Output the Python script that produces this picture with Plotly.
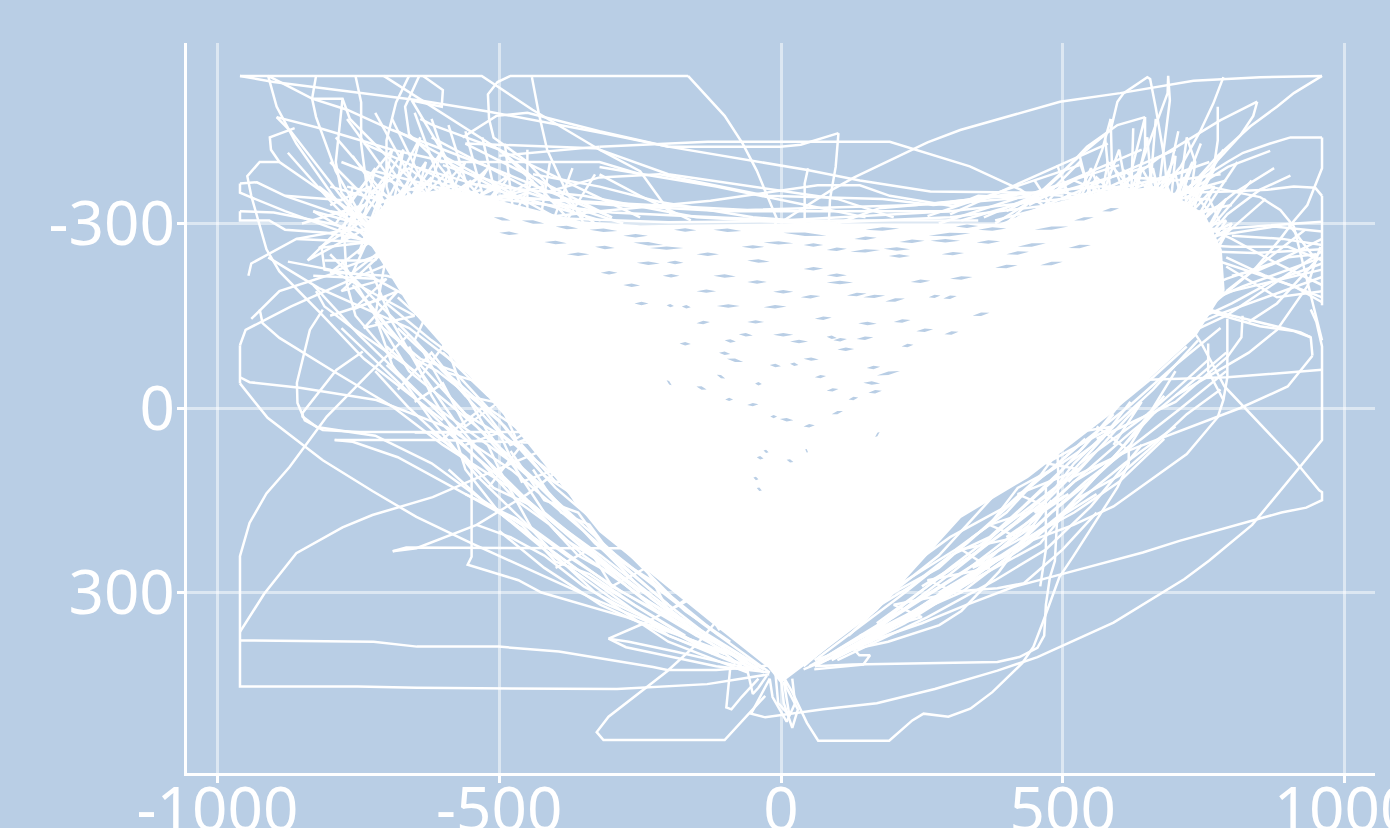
import plotly.graph_objects as go

BG = "#B9CEE5"
X_TICKS = [-1000, -500, 0, 500, 1000]
X_LABELS = ["-1000", "-500", "0", "500", "1000"]
Y_TICKS = [-300, 0, 300]
Y_LABELS = ["-300", "0", "300"]

DENSE_CORE = [(-735,-300),(-690,-340),(-593,-355),(-499,-335),(-357,-302),(-250,-295),(0,-298),(389,-298),(478,-330),(567,-350),(673,-358),(750,-314),(780,-257),(785,-192),(735,-119),(584,8),(437,112),(318,177),(169,328),(43,415),(0,445),(-21,421),(-115,353),(-321,200),(-476,25),(-570,-73),(-654,-160),(-703,-233),(-739,-284)]

OUTER = [
 [(-165,-540),(-100,-475),(-68,-430),(-43,-386),(-7,-307),(-50,-200)],
 [(-960,-40),(-911,16),(-813,85),(-725,135),(-647,177),(-547,221),(-321,315),(-100,400)],
 [(-960,-102),(-960,-40)],
 [(-960,-102),(-950,-127),(-870,-165),(-765,-208),(-680,-240)],
 [(-960,-50),(-943,-42),(-854,-33),(-718,-13),(-593,31),(-476,102),(-350,200),(-200,320)],
 [(-925,-160),(-920,-138),(-890,-114),(-789,-57),(-689,-2),(-600,60),(-480,130),(-350,240),(-150,370)],
 [(-813,-160),(-836,-127),(-859,-41),(-858,-8),(-845,20),(-813,36),(-748,39),(-511,39),(-440,39)],
 [(-792,52),(-607,52),(-500,55),(-420,57)],
 [(-792,52),(-760,55),(-680,80),(-600,120),(-500,170),(-380,250),(-200,370),(-30,430)],
 [(-742,-92),(-789,-62),(-849,8),(-849,14),(-824,31),(-720,45),(-620,90),(-500,170),(-350,270),(-120,400)],
 [(-660,-120),(-730,-57),(-806,14),(-872,96),(-913,139),(-943,187),(-960,241),(-960,300),(-960,375),(-960,453),(-751,453),(-646,455),(-291,457),(-131,449),(-21,433)],
 [(-960,378),(-723,380),(-646,388),(-501,388),(-394,396),(-227,421),(-202,426),(-115,426),(-12,418)],
 [(-960,364),(-917,302),(-860,236),(-778,194),(-725,174),(-618,145),(-535,112),(-400,60)],
 [(-689,233),(-647,228),(-540,190),(-450,140),(-350,70)],
 [(-689,233),(-665,227),(-357,228),(-250,228)],
 [(-549,60),(-549,122),(-549,242),(-556,255),(-466,280),(-425,300),(-275,340),(-195,365),(-60,410)],
 [(-306,375),(-275,389),(-115,420),(-20,430)],
 [(-306,375),(-270,380),(-188,396),(-50,425)],
 [(-306,375),(-243,350),(-180,320),(-100,280)],
 [(-28,468),(-100,540),(-315,540),(-327,527),(-306,502),(-202,428),(-147,382),(-90,320)],
 [(0,430),(20,462),(46,512),(66,541),(192,541),(233,508),(253,497),(297,502),(336,489),(375,462),(428,415),(448,388),(464,350),(494,275),(518,242),(597,129),(617,90),(617,69),(560,30)],
 [(60,420),(127,417),(384,413),(423,405),(455,390),(467,370),(470,320),(477,276),(486,249),(490,180),(492,110),(490,60)],
 [(127,390),(139,402),(158,402),(146,417),(59,425)],
 [(-20,440),(-53,497),(-28,503),(75,490),(170,480),(273,457),(384,427),(455,405),(590,349),(716,278),(760,248),(836,190),(960,52),(960,-60),(960,-100),(950,-140),(940,-160)],
 [(60,410),(250,350),(329,320),(412,291),(495,271),(642,235),(707,216),(836,184),(888,170),(932,162),(960,150),(960,137),(955,134),(911,85),(787,-35),(746,-105),(700,-170)],
 [(130,392),(190,380),(281,353),(320,330),(387,266),(440,200),(480,150)],
 [(100,400),(297,299),(384,293),(431,285),(500,230),(560,170)],
 [(960,-62),(792,-50),(650,-46)],
 [(943,-85),(940,-115),(922,-123),(820,-145),(792,-152),(720,-170)],
 [(943,-85),(899,-35),(815,0),(678,48),(620,68),(500,120),(400,190),(300,260),(150,370)],
 [(819,-150),(817,-115),(792,-83),(700,-10),(560,50)],
 [(792,-145),(792,-50),(785,-13),(775,15),(720,75),(590,160),(519,190),(425,222),(300,300),(150,370)],
 [(758,-105),(758,-60),(785,-13)],
 [(-20,440),(-15,470),(10,510),(25,480),(20,440)],
 [(-90,422),(-97,487),(-88,490),(-70,470),(-40,440)],
 [(-60,425),(-50,465),(-40,455),(-25,435)],
 [(0,420),(10,455),(30,490),(20,520),(5,480),(0,440)],
 [(-10,430),(-5,480),(15,500),(5,445)],
]

TOP_RIGHT = [
 [(960,-440),(904,-440),(868,-430),(820,-415),(792,-400),(740,-370),(650,-300)],
 [(960,-440),(960,-390),(934,-330),(910,-304),(886,-275),(840,-225),(740,-150)],
 [(960,-540),(850,-538),(732,-532),(602,-512),(495,-498),(318,-452),(260,-432),(130,-375),(87,-353),(0,-302)],
 [(960,-540),(910,-512),(880,-490),(833,-458),(775,-410),(733,-367),(680,-320),(620,-280)],
 [(400,-300),(465,-355),(536,-415),(585,-452),(597,-498),(608,-512),(650,-538),(655,-535),(665,-488),(680,-407),(685,-360),(680,-300)],
 [(600,-300),(640,-400),(686,-512),(687,-540),(690,-500),(673,-376),(650,-300)],
 [(600,-330),(620,-380),(646,-473),(646,-425)],
 [(646,-473),(597,-460),(543,-425),(495,-378),(450,-340),(380,-300)],
 [(785,-538),(767,-495),(745,-452),(709,-392),(660,-340),(600,-290)],
 [(775,-490),(775,-435),(767,-385),(740,-340),(700,-300)],
 [(845,-498),(838,-475),(815,-443),(762,-390),(700,-340),(650,-300)],
 [(845,-498),(780,-468),(672,-408),(603,-360),(540,-320)],
 [(585,-470),(570,-420),(555,-385),(530,-340),(500,-300)],
 [(585,-470),(587,-400),(605,-360),(620,-300)],
 [(868,-418),(793,-392),(720,-350),(650,-310)],
 [(875,-390),(805,-350),(775,-328),(740,-300),(680,-260)],
 [(904,-378),(850,-355),(792,-315),(760,-280),(700,-240)],
 [(960,-345),(948,-358),(910,-360),(863,-355),(792,-352),(720,-350),(600,-340)],
 [(960,-345),(960,-167)],
 [(760,-360),(850,-343),(886,-322),(910,-295),(945,-165),(960,-110)],
 [(700,-300),(720,-440),(735,-400),(720,-300)],
 [(620,-300),(640,-340),(660,-390),(675,-330),(660,-290)],
 [(560,-350),(620,-375),(700,-370),(780,-380)],
 [(500,-340),(600,-360),(680,-340),(760,-360)],
 [(470,-345),(530,-400),(560,-320),(600,-420),(620,-320),(650,-440),(660,-330),(700,-410),(690,-320),(730,-400),(700,-310),(750,-380),(710,-300),(770,-360),(720,-280),(790,-340),(740,-260),(790,-290),(760,-230)],
 [(440,-330),(520,-370),(570,-350),(580,-400),(630,-350),(640,-390),(670,-340),(700,-380),(710,-340),(740,-350),(730,-310),(780,-330),(750,-280),(800,-300),(770,-250)],
 [(400,-320),(470,-355),(540,-345),(560,-375),(600,-340),(610,-385),(655,-355),(680,-370),(700,-330),(720,-360),(760,-320),(740,-290),(790,-305),(760,-265)],
 [(450,-310),(500,-365),(520,-330),(550,-390),(575,-330),(610,-365),(630,-320),(660,-375),(680,-310),(715,-375),(720,-320)],
 [(520,-310),(560,-360),(590,-360),(620,-340),(650,-360),(640,-320),(690,-350),(680,-300),(730,-340),(760,-340),(780,-300)],
 [(560,-300),(530,-410)],[(590,-300),(575,-440)],[(620,-300),(625,-455)],[(650,-300),(665,-470)],
 [(670,-300),(705,-450)],[(690,-300),(745,-430)],[(710,-300),(785,-420)],[(730,-290),(810,-400)],
 [(750,-280),(835,-370)],[(760,-260),(860,-340)],[(530,-300),(490,-395)],[(500,-300),(450,-370)],
 [(790,-370),(520,-300)],[(760,-400),(480,-310)],[(700,-420),(420,-310)],[(640,-420),(360,-310)],
 [(800,-330),(580,-290)],[(580,-430),(300,-315)],[(530,-395),(260,-312)],
 [(720,-385),(380,-305)],[(660,-395),(320,-305)],[(600,-395),(280,-300)],[(770,-360),(480,-300)],
]

RIGHT_FAN = [
 [(960,-303),(792,-292),(720,-290)],
 [(960,-287),(875,-295),(700,-270)],
 [(960,-255),(790,-150),(720,-120)],
 [(960,-258),(840,-252),(750,-255)],
 [(960,-245),(820,-198),(750,-170)],
 [(960,-225),(800,-190),(740,-180)],
 [(960,-213),(785,-155),(720,-130)],
 [(740,-250),(805,-230),(910,-198),(960,-172)],
 [(720,-170),(792,-148),(850,-133),(910,-125),(940,-115)],
 [(957,-262),(934,-198),(880,-127),(830,-90),(700,-20)],
 [(960,-240),(900,-262),(800,-262),(740,-265)],
 [(960,-275),(880,-238),(790,-210),(740,-190)],
 [(960,-200),(880,-235),(800,-275),(740,-300)],
 [(960,-265),(890,-275),(800,-280)],
 [(960,-190),(880,-180),(790,-230)],
 [(960,-180),(860,-215),(790,-245)],
 [(960,-235),(870,-205),(800,-170),(730,-140)],
 [(930,-290),(860,-240),(790,-190)],
 [(900,-300),(950,-240),(880,-170),(830,-140)],
 [(800,-215),(850,-225),(900,-245),(950,-250)],
]

TOP_LEFT = [
 [(-960,-540),(-531,-540),(-441,-485),(-322,-420),(-200,-380),(100,-340),(200,-310)],
 [(-165,-540),(-480,-540),(-503,-530),(-520,-510),(-518,-470),(-510,-440),(-450,-400),(-400,-350),(-330,-300)],
 [(-442,-538),(-430,-480),(-415,-420),(-385,-360),(-350,-300)],
 [(-910,-540),(-895,-490),(-860,-430),(-795,-345),(-700,-250)],
 [(-895,-473),(-870,-450),(-815,-385),(-760,-320),(-680,-230)],
 [(-895,-473),(-818,-455),(-690,-420),(-593,-400),(-450,-330)],
 [(-863,-455),(-907,-440),(-905,-420),(-890,-400),(-795,-340),(-680,-260)],
 [(-890,-400),(-925,-400),(-947,-377),(-940,-345),(-913,-258),(-890,-222),(-818,-155),(-740,-80),(-600,20)],
 [(-960,-365),(-930,-367),(-880,-345),(-795,-318),(-720,-290),(-650,-270)],
 [(-960,-365),(-960,-350),(-880,-320),(-790,-290),(-720,-265),(-650,-240)],
 [(-960,-320),(-960,-305),(-908,-305),(-880,-290),(-806,-285),(-720,-270)],
 [(-960,-320),(-900,-318),(-800,-300),(-720,-280)],
 [(-875,-415),(-795,-332),(-740,-280),(-680,-220)],
 [(-880,-345),(-778,-338)],
 [(-825,-540),(-832,-503),(-825,-473),(-790,-385),(-750,-320),(-690,-260)],
 [(-778,-503),(-790,-400),(-780,-350),(-720,-280)],
 [(-832,-503),(-778,-503),(-765,-470),(-700,-410),(-620,-340)],
 [(-755,-540),(-745,-497),(-745,-430),(-735,-360),(-680,-290)],
 [(-660,-540),(-683,-497),(-700,-435),(-700,-360),(-680,-300)],
 [(-642,-540),(-667,-490),(-660,-445),(-625,-415),(-560,-340)],
 [(-635,-540),(-600,-517),(-602,-490),(-655,-500),(-590,-400),(-540,-350),(-500,-310)],
 [(-705,-540),(-500,-420),(-420,-350),(-380,-310)],
 [(-960,-540),(-900,-530),(-640,-500),(-520,-482),(-322,-448),(-200,-425),(47,-387),(140,-370),(265,-352),(425,-350),(480,-350)],
 [(-910,-540),(-832,-503),(-770,-485),(-690,-452),(-499,-385),(-380,-340),(-300,-310)],
 [(-640,-470),(-618,-460),(-500,-420),(-420,-360)],
 [(-565,-440),(-505,-475),(-450,-480),(-322,-450),(-200,-425),(-1,-425),(35,-428),(102,-447)],
 [(102,-447),(97,-392),(87,-340),(84,-285)],
 [(-322,-425),(-130,-433),(193,-433),(335,-393),(425,-355),(480,-320)],
 [(48,-390),(42,-365),(42,-295),(42,-270)],
 [(-322,-392),(-115,-360),(55,-328),(150,-310)],
 [(-420,-350),(-322,-375),(-215,-380),(-25,-345),(180,-340),(270,-330),(425,-342),(500,-350)],
 [(-420,-310),(-322,-320),(-125,-337),(65,-362),(140,-362),(193,-345),(305,-328),(350,-345),(425,-342)],
 [(-440,-380),(-322,-360),(-215,-335),(-50,-310),(100,-300)],
 [(100,-300),(175,-325),(300,-335),(425,-350),(500,-345)],
 [(-322,-420),(-250,-385),(-195,-315)],
 [(-322,-380),(-250,-345),(-160,-305)],
 [(-605,-400),(-322,-400),(-250,-380)],
 [(-500,-410),(-322,-425)],
 [(-560,-430),(-322,-422)],
 [(-860,-275),(-740,-270),(-690,-270)],
 [(-945,-215),(-940,-235),(-860,-275),(-770,-290),(-700,-290)],
 [(-940,-145),(-890,-190),(-790,-220),(-700,-215),(-640,-200)],
 [(-815,-260),(-810,-225),(-730,-215),(-640,-170)],
 [(-875,-238),(-800,-225),(-650,-150)],
 [(-825,-190),(-810,-165),(-760,-130),(-650,-60)],
 [(-910,-245),(-820,-195),(-660,-130),(-560,-60)],
 [(-775,-280),(-770,-200),(-755,-150),(-690,-80)],
 [(-760,-410),(-700,-330),(-660,-300)],
 [(-700,-400),(-640,-320),(-600,-350)],
 [(-730,-350),(-660,-390),(-590,-340),(-530,-380)],
 [(-720,-330),(-620,-370),(-520,-340),(-420,-360)],
 [(-500,-345),(-300,-330),(-100,-320),(100,-320),(300,-320)],
 [(-560,-365),(-350,-345),(-150,-310),(50,-300),(300,-310),(480,-330)],
 [(-450,-310),(-200,-302),(100,-305),(350,-305)],
 [(-600,-350),(-300,-318),(0,-305),(300,-320),(600,-350)],
 [(-650,-350),(-320,-335),(-60,-322),(240,-330),(560,-360)],
 [(-770,-330),(-690,-420),(-720,-300),(-640,-440),(-680,-310),(-600,-420),(-640,-320),(-560,-400),(-600,-320),(-520,-390),(-560,-330),(-480,-380),(-520,-330),(-440,-370),(-470,-320)],
 [(-790,-300),(-720,-390),(-740,-310),(-670,-420),(-690,-320),(-630,-400),(-650,-330),(-590,-385),(-610,-330),(-550,-370),(-570,-330),(-500,-360),(-530,-325),(-450,-350)],
 [(-800,-330),(-730,-360),(-770,-290),(-700,-380),(-730,-280),(-660,-370),(-700,-300),(-620,-375),(-660,-330),(-580,-365),(-620,-335),(-530,-355)],
 [(-760,-360),(-780,-270),(-710,-350),(-750,-250),(-680,-340),(-720,-240),(-660,-350),(-640,-310),(-600,-360),(-590,-320)],
 [(-830,-320),(-750,-300),(-820,-260),(-730,-270),(-800,-220),(-710,-250),(-780,-190),(-700,-210),(-760,-160),(-680,-190),(-740,-130),(-650,-150)],
 [(-850,-300),(-740,-330),(-840,-240),(-720,-300),(-760,-220),(-690,-270)],
 [(-640,-280),(-790,-440)],[(-620,-280),(-770,-470)],[(-600,-280),(-720,-480)],[(-590,-280),(-690,-470)],
 [(-570,-280),(-650,-480)],[(-550,-280),(-620,-470)],[(-530,-280),(-590,-460)],[(-510,-280),(-560,-450)],
 [(-490,-280),(-530,-440)],[(-470,-280),(-490,-430)],[(-450,-280),(-450,-420)],[(-430,-290),(-410,-400)],
 [(-410,-290),(-370,-390)],[(-390,-290),(-330,-380)],[(-660,-270),(-800,-400)],[(-680,-260),(-820,-360)],
 [(-680,-240),(-830,-320)],[(-780,-400),(-500,-300)],[(-740,-430),(-450,-310)],[(-680,-450),(-400,-310)],
 [(-620,-440),(-350,-310)],[(-560,-430),(-300,-310)],[(-500,-420),(-250,-310)],[(-800,-360),(-560,-300)],
 [(-800,-320),(-600,-290)],[(-720,-240),(-810,-240)],[(-720,-210),(-830,-215)],[(-700,-180),(-800,-150)],
 [(-720,-385),(-380,-305)],[(-660,-395),(-320,-305)],[(-600,-395),(-280,-300)],[(-770,-360),(-480,-300)],
]

LOWER_LEFT = [
 [(-760,-200),(-680,-110),(-600,-30),(-500,70),(-400,150),(-280,250),(-140,350),(-20,430)],
 [(-780,-130),(-700,-60),(-620,10),(-540,80),(-440,160),(-320,240),(-180,340),(-30,425)],
 [(-730,-230),(-690,-140),(-640,-60),(-580,20),(-500,110),(-400,190),(-260,300),(-30,430)],
 [(-700,-250),(-720,-150),(-690,-70),(-620,20),(-540,110),(-450,190),(-300,290),(-100,390)],
 [(-830,-200),(-750,-120),(-660,-40),(-560,50),(-450,150),(-360,220),(-200,330),(-40,420)],
 [(-660,-100),(-620,-20),(-580,40),(-560,100),(-500,170),(-420,230),(-300,310),(-120,400)],
 [(-780,-240),(-660,-60),(-540,30),(-420,130),(-330,220),(-200,320),(-60,420)],
 [(-700,-70),(-640,-20),(-520,60),(-460,100),(-360,190),(-230,310),(-70,420)],
 [(-600,-120),(-570,-40),(-520,40),(-470,100),(-420,170),(-260,290)],
 [(-640,-100),(-590,-20),(-560,10),(-470,60),(-400,130),(-310,200),(-180,320)],
 [(-800,-250),(-650,-110),(-590,-50),(-500,40),(-400,110)],
 [(-520,60),(-500,100),(-440,200),(-400,240),(-330,300),(-200,380),(-60,430)],
 [(-560,140),(-470,180),(-380,240),(-280,300),(-150,370),(-40,425)],
 [(-500,200),(-420,260),(-320,320),(-200,370),(-80,415)],
 [(-700,-100),(-640,-50),(-600,-100),(-560,-60),(-500,-20)],
 [(-680,-30),(-620,-90),(-560,-20),(-510,-10),(-450,20)],
 [(-600,50),(-530,0),(-480,60),(-420,40),(-380,70)],
 [(-520,130),(-460,60),(-400,120),(-350,120)],
 [(-720,-140),(-640,-80),(-580,-60),(-520,0),(-440,50),(-400,90),(-340,130)],
 [(-680,-180),(-620,-130),(-560,-100),(-520,-40),(-440,30),(-400,60)],
 [(-740,-180),(-650,-80),(-610,-60),(-540,-10),(-490,30),(-420,110),(-370,140)],
 [(-620,40),(-560,80),(-510,130),(-440,160),(-390,210),(-320,250),(-250,300)],
 [(-650,40),(-590,40),(-530,90),(-470,150),(-410,190),(-360,240),(-300,270),(-220,330),(-120,380)],
 [(-590,100),(-530,150),(-460,190),(-400,250),(-340,270),(-260,320),(-170,370)],
 [(-540,190),(-480,210),(-420,240),(-350,290),(-290,320),(-200,360),(-110,400)],
 [(-440,100),(-390,170),(-340,190),(-300,240),(-230,280),(-170,330),(-90,380)],
 [(-480,70),(-420,150),(-360,170),(-320,220),(-250,270),(-190,310),(-110,370)],
 [(-500,-10),(-430,70),(-380,100),(-340,160),(-290,190),(-240,250),(-150,320)],
 [(-550,-60),(-480,10),(-430,40),(-390,110),(-320,160),(-270,210)],
 [(-600,-90),(-520,-20),(-470,0),(-430,60),(-350,130),(-310,170)],
 [(-560,60),(-500,40),(-460,120),(-400,100),(-360,160),(-310,140),(-290,210),(-240,190),(-210,270),(-160,260),(-130,320)],
 [(-650,-10),(-600,-40),(-560,30),(-500,-10),(-470,50),(-420,20),(-390,80),(-350,60)],
 [(-400,260),(-340,230),(-300,290),(-240,260),(-200,330),(-150,300),(-110,360),(-70,340),(-40,400)],
 [(-680,-130),(-610,-70),(-560,-30),(-500,20),(-450,80)],
 [(-620,-170),(-650,-110),(-600,-60),(-530,-40)],
 [(-700,-170),(-620,-110),(-590,-90),(-540,-70)],
 [(-660,-200),(-600,-150),(-580,-130),(-530,-80)],
 [(-720,-60),(-660,0),(-590,60),(-530,110)],
]

LOWER_RIGHT = [
 [(700,-150),(640,-80),(560,-10),(460,70),(380,140),(280,240),(170,320),(40,420)],
 [(780,-130),(700,-70),(620,-5),(530,60),(440,130),(330,220),(220,300),(60,410)],
 [(740,-110),(660,-30),(590,30),(500,120),(410,190),(300,270),(170,360),(50,420)],
 [(790,-90),(700,-20),(620,40),(520,120),(420,200),(320,270),(200,340),(60,415)],
 [(790,-60),(710,0),(640,50),(540,120),(430,210),(350,250),(230,320),(70,410)],
 [(680,-20),(600,70),(540,130),(460,220),(340,280),(220,350),(90,410)],
 [(700,-60),(620,60),(560,110),(480,170),(400,240),(300,290),(160,380),(40,425)],
 [(640,60),(550,160),(470,230),(380,280),(260,340),(100,410)],
 [(610,70),(520,120),(440,190),(400,220),(340,270),(200,350),(80,410)],
 [(560,140),(490,180),(390,240),(300,300),(180,360),(60,420)],
 [(640,-50),(560,40),(480,120),(420,170),(340,240),(250,290)],
 [(600,20),(520,90),(470,150),(400,200),(290,270),(170,350)],
 [(470,130),(470,230),(460,290)],
 [(700,30),(610,90),(530,150),(440,220),(360,270),(270,320),(150,380)],
 [(660,10),(590,80),(500,170),(420,230),(320,300),(220,340),(110,400)],
 [(620,-10),(570,50),(510,90),(430,160),(370,210),(300,240),(230,290),(140,340)],
 [(590,10),(530,70),(450,120),(400,170),(340,210),(280,260),(200,300),(120,370)],
 [(540,50),(480,100),(420,130),(370,190),(310,230),(240,270),(170,310),(90,380)],
 [(500,60),(460,110),(400,160),(360,180),(300,210),(240,250),(190,280)],
 [(680,50),(600,120),(520,170),(440,210),(380,250),(320,290),(250,330),(130,390)],
 [(590,60),(640,-10),(550,80),(610,20),(510,120),(560,70),(450,170),(510,140),(400,210),(450,190),(340,260),(390,240),(280,300),(330,280),(220,340)],
 [(520,40),(590,30),(470,90),(530,100),(420,140),(470,160),(370,190),(420,210),(320,230),(370,260),(260,280),(310,300),(200,320),(250,340),(140,370)],
 [(760,-80),(700,-30),(650,10),(590,50),(530,90)],
 [(720,-100),(660,-50),(620,-20),(580,10)],
 [(780,-30),(720,10),(650,70),(600,110),(520,150)],
]

GAPS = [
 [(-280,-280),(-236,-280)],[(-262,-269),(-209,-265)],[(4,-285),(81,-280)],[(262,-280),(336,-284)],
 [(265,-272),(318,-272)],[(347,-269),(389,-271)],[(-31,-269),(22,-268)],[(81,-257),(117,-259)],
 [(123,-254),(176,-257)],[(182,-259),(229,-258)],[(191,-247),(229,-247)],[(-233,-260),(-173,-260)],
 [(-256,-236),(-215,-235)],[(-203,-237),(-173,-236)],[(40,-226),(75,-227)],[(81,-216),(117,-216)],
 [(81,-204),(128,-204)],[(-280,-200),(-250,-199)],[(117,-183),(152,-186)],[(146,-180),(185,-183)],
 [(185,-173),(220,-178)],[(262,-180),(283,-183)],[(288,-178),(312,-182)],[(-114,-166),(-73,-166)],
 [(-203,-167),(-190,-166)],[(-176,-165),(-160,-164)],[(-14,-189),(22,-189)],[(-31,-164),(10,-165)],
 [(-150,-138),(-126,-140)],[(137,-138),(170,-137)],[(-14,-119),(22,-119)],[(16,-108),(48,-108)],
 [(81,-116),(99,-114)],[(93,-110),(117,-112)],[(134,-112),(164,-115)],[(214,-100),(235,-103)],
 [(-96,-80),(-67,-75)],[(40,-80),(67,-79)],[(16,-72),(31,-70)],[(-114,-54),(-99,-48)],
 [(152,-65),(176,-67)],[(170,-53),(211,-60)],[(146,-41),(176,-40)],[(155,-25),(179,-28)],
 [(81,-28),(102,-31)],[(120,-14),(137,-17)],[(-46,-40),(-34,-39)],[(-150,-35),(-132,-30)],
 [(-99,-14),(-85,-14)],[(-19,14),(-7,14)],[(-2,18),(22,20)],[(-31,69),(-22,72)],
 [(-43,80),(-31,82)],[(10,84),(22,88)],[(43,67),(48,72)],[(-49,113),(-40,116)],
 [(-43,130),(-34,134)],[(-203,-45),(-194,-37)],[(167,47),(175,39)],[(-380,-250),(-340,-250)],
 [(-420,-270),(-380,-268)],[(380,-228),(420,-232)],[(420,-262),(470,-268)],[(-340,-290),(-290,-288)],
 [(150,-290),(210,-292)],[(-120,-290),(-70,-288)],[(-320,-220),(-290,-220)],[(-150,-250),(-110,-250)],
 [(-60,-240),(-20,-238)],[(300,-210),(340,-213)],[(340,-150),(370,-155)],[(240,-125),(270,-128)],
 [(-120,-215),(-80,-214)],[(-60,-140),(-30,-140)],[(-180,-105),(-160,-104)],[(-100,-110),(-80,-108)],
 [(60,-145),(90,-147)],[(60,-50),(80,-52)],[(-60,-5),(-40,-6)],[(40,30),(60,28)],[(90,10),(110,5)],
 [(450,-290),(510,-295)],[(510,-260),(550,-265)],[(350,-290),(400,-292)],
 [(-460,-305),(-420,-300)],[(-400,-295),(-360,-292)],[(-510,-310),(-480,-305)],[(-500,-285),(-465,-283)],
 [(-330,-262),(-295,-260)],[(-190,-290),(-150,-289)],[(-70,-262),(-30,-262)],[(40,-265),(75,-265)],
 [(130,-275),(170,-277)],[(210,-270),(255,-272)],[(310,-295),(350,-296)],[(400,-250),(440,-254)],
 [(460,-232),(500,-238)],[(520,-305),(555,-310)],[(570,-320),(600,-325)],[(285,-250),(325,-252)],
 [(-150,-190),(-115,-190)],[(-60,-205),(-25,-205)],[(35,-180),(70,-182)],[(230,-205),(265,-207)],
 [(-210,-215),(-180,-215)],[(-260,-170),(-235,-170)],[(-75,-120),(-50,-118)],[(200,-140),(230,-143)],
 [(290,-120),(315,-124)],[(-20,-70),(0,-68)],[(-110,-90),(-90,-88)],[(100,-95),(130,-96)],
]


def flatten(groups):
    xs, ys = [], []
    for path in groups:
        for x, y in path:
            xs.append(x)
            ys.append(y)
        xs.append(None)
        ys.append(None)
    return xs, ys


def lens(groups):
    xs, ys = [], []
    for (x1, y1), (x2, y2) in groups:
        mx, my = (x1 + x2) / 2, (y1 + y2) / 2
        xs += [x1, mx, x2, mx, x1, None]
        ys += [y1, my - 2.8, y2, my + 2.8, y1, None]
    return xs, ys


fig = go.Figure()
fig.add_trace(go.Scatter(
    x=[p[0] for p in DENSE_CORE], y=[p[1] for p in DENSE_CORE],
    mode="lines", fill="toself", fillcolor="white",
    line=dict(color="white", width=2.5), hoverinfo="skip", showlegend=False,
))
for group in (OUTER, TOP_RIGHT, RIGHT_FAN, TOP_LEFT, LOWER_LEFT, LOWER_RIGHT):
    px, py = flatten(group)
    fig.add_trace(go.Scatter(x=px, y=py, mode="lines",
                             line=dict(color="white", width=2.5), hoverinfo="skip", showlegend=False))
gx, gy = lens(GAPS)
fig.add_trace(go.Scatter(x=gx, y=gy, mode="lines", fill="toself", fillcolor=BG,
                         line=dict(color=BG, width=0), hoverinfo="skip", showlegend=False))

axis = dict(
    showline=True, linecolor="white", linewidth=2.5,
    showgrid=True, gridcolor="rgba(255,255,255,0.5)", gridwidth=2.5,
    zeroline=False,
    ticks="outside", ticklen=7, tickwidth=2.5, tickcolor="white",
    tickfont=dict(family="Noto Sans", size=62, color="white"),
    ticklabeloverflow="allow",
    automargin=False,
)
fig.update_xaxes(range=[-1054, 1054], tickmode="array", tickvals=X_TICKS, ticktext=X_LABELS,
                 ticklabelstandoff=-26, **axis)
fig.update_yaxes(range=[593.5, -593.5], tickmode="array", tickvals=Y_TICKS, ticktext=Y_LABELS,
                 ticklabelstandoff=-10, **axis)
fig.update_layout(
    width=1390, height=828, autosize=False,
    margin=dict(l=187, r=15, t=43, b=55),
    paper_bgcolor=BG, plot_bgcolor=BG, showlegend=False,
    font=dict(family="Noto Sans", color="white"),
)
fig.write_html("out.html", config={"displayModeBar": False},
               post_script="document.body.style.margin='0';document.body.style.overflow='hidden';document.body.style.background='%s';" % BG)
